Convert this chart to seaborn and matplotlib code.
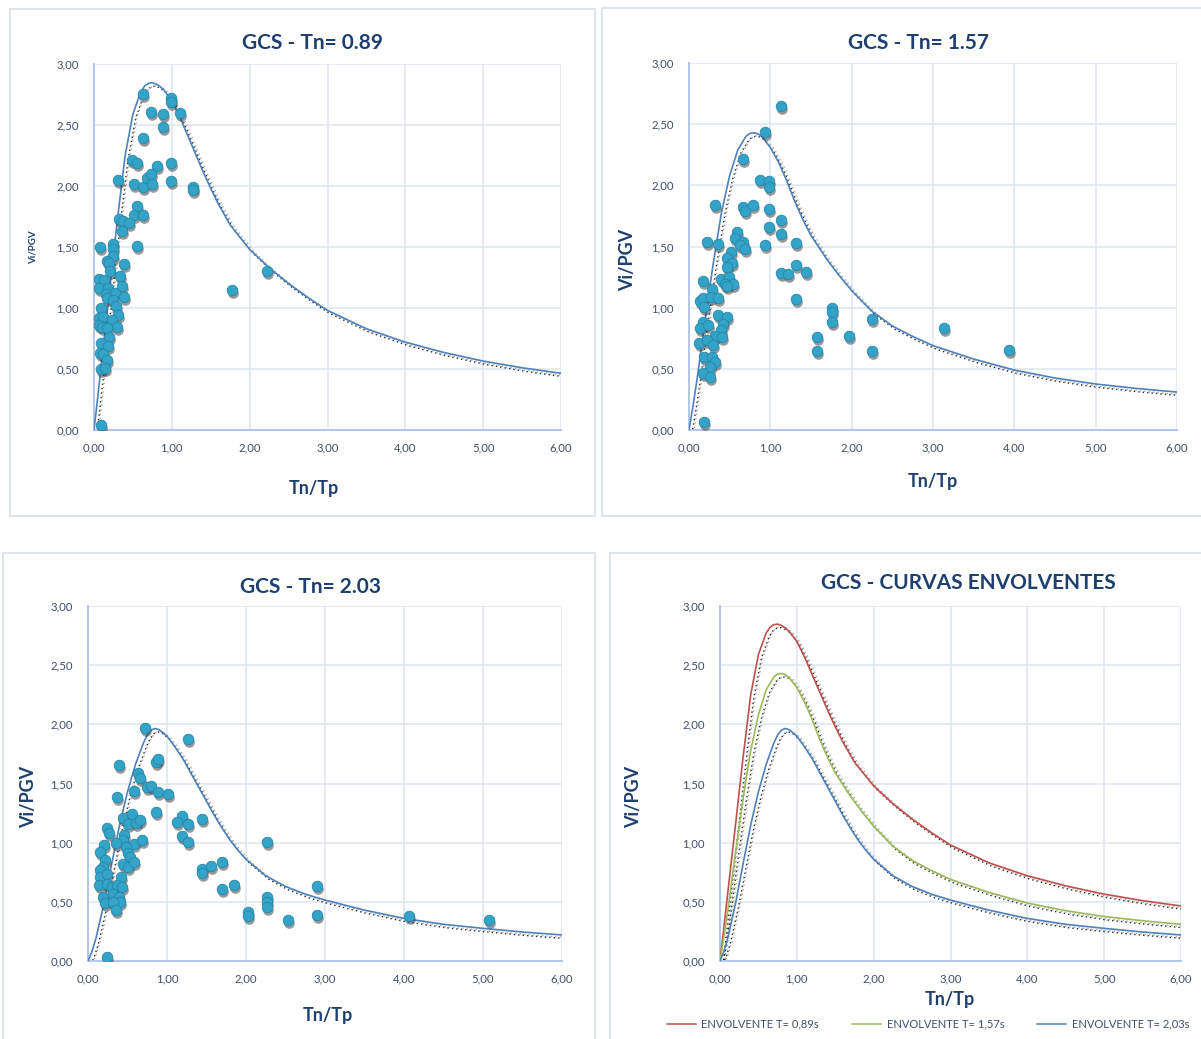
import numpy as np
import pandas as pd
import matplotlib
matplotlib.use("Agg")
import matplotlib.pyplot as plt
import seaborn as sns
from matplotlib.transforms import offset_copy
from matplotlib.patches import Rectangle
from matplotlib.lines import Line2D
from matplotlib.ticker import FuncFormatter, MultipleLocator

# -----------------------------
# Data
# -----------------------------
# envelope curves (Tn/Tp, Vi/PGV)
env089_x = [0, 0.05, 0.1, 0.2, 0.3, 0.4, 0.5, 0.6, 0.65, 0.7, 0.75, 0.8, 0.85, 0.9, 1.0, 1.1, 1.2, 1.3, 1.4,
            1.5, 1.6, 1.75, 2.0, 2.25, 2.5, 2.75, 3.0, 3.5, 4.0, 4.5, 5.0, 5.5, 6.0]
env089_y = [0, 0.28, 0.57, 1.14, 1.72, 2.25, 2.59, 2.77, 2.82, 2.842, 2.847, 2.835, 2.815, 2.785, 2.70, 2.57,
            2.42, 2.27, 2.12, 1.98, 1.85, 1.68, 1.48, 1.33, 1.20, 1.085, 0.98, 0.83, 0.72, 0.635, 0.565,
            0.51, 0.465]

env157_x = [0, 0.05, 0.1, 0.2, 0.3, 0.4, 0.5, 0.6, 0.7, 0.75, 0.8, 0.85, 0.9, 1.0, 1.1, 1.2, 1.3, 1.4,
            1.5, 1.6, 1.7, 1.85, 2.0, 2.25, 2.5, 2.75, 3.0, 3.5, 4.0, 4.5, 5.0, 5.5, 6.0]
env157_y = [0, 0.2, 0.42, 0.91, 1.37, 1.78, 2.08, 2.29, 2.40, 2.425, 2.43, 2.42, 2.395, 2.31, 2.19, 2.04,
            1.87, 1.72, 1.59, 1.49, 1.39, 1.26, 1.14, 0.97, 0.85, 0.765, 0.69, 0.58, 0.49, 0.425, 0.376,
            0.34, 0.31]

env203_x = [0, 0.05, 0.1, 0.2, 0.3, 0.4, 0.5, 0.6, 0.7, 0.75, 0.8, 0.85, 0.9, 1.0, 1.1, 1.2, 1.3, 1.4,
            1.5, 1.6, 1.7, 1.8, 1.9, 2.0, 2.25, 2.5, 2.75, 3.0, 3.5, 4.0, 4.5, 5.0, 5.5, 6.0]
env203_y = [0, 0.08, 0.19, 0.48, 0.82, 1.15, 1.43, 1.66, 1.84, 1.91, 1.952, 1.965, 1.955, 1.90, 1.81, 1.71,
            1.59, 1.47, 1.35, 1.23, 1.12, 1.02, 0.935, 0.86, 0.72, 0.63, 0.565, 0.515, 0.43, 0.36, 0.31,
            0.276, 0.245, 0.22]

# scatter points, Tn = 0.89
pts089_x = [0.634, 0.99, 0.99, 0.733, 0.89, 1.105, 0.89, 0.634, 0.485, 0.557, 0.81, 0.99, 0.304, 0.514,
            0.634, 0.685, 0.733, 0.745, 0.99, 1.276, 1.276, 0.557, 0.514, 0.634, 0.325, 0.369, 0.454,
            0.36, 0.077, 0.248, 0.248, 0.557, 0.248, 0.163, 0.197, 0.386, 0.206, 0.334, 0.068, 0.129,
            0.068, 0.184, 0.364, 0.154, 0.27, 0.163, 0.39, 0.248, 0.283, 0.086, 0.313, 0.068, 0.112,
            0.068, 0.099, 0.227, 0.291, 0.163, 0.197, 0.086, 0.184, 0.077, 0.112, 0.163, 0.086, 0.141,
            0.086, 1.77, 2.228]
pts089_y = [2.754, 2.72, 2.69, 2.607, 2.59, 2.60, 2.48, 2.39, 2.21, 2.186, 2.164, 2.19, 2.049, 2.016,
            1.995, 2.063, 2.098, 2.02, 2.04, 1.995, 1.967, 1.836, 1.762, 1.762, 1.728, 1.713, 1.694,
            1.631, 1.502, 1.522, 1.481, 1.508, 1.426, 1.388, 1.366, 1.361, 1.306, 1.262, 1.235, 1.23,
            1.167, 1.161, 1.18, 1.115, 1.125, 1.079, 1.088, 1.066, 1.016, 0.997, 0.943, 0.915, 0.924,
            0.861, 0.842, 0.902, 0.842, 0.834, 0.765, 0.716, 0.689, 0.634, 0.623, 0.574, 0.497, 0.505,
            0.041, 1.148, 1.303]

# scatter points, Tn = 1.57
pts157_x = [0.935, 0.66, 0.873, 0.988, 0.988, 0.316, 0.66, 0.693, 0.791, 0.988, 1.128, 0.988, 1.128,
            0.587, 0.566, 0.668, 0.627, 0.693, 0.218, 0.36, 0.935, 1.316, 0.513, 0.464, 0.525, 0.464,
            1.316, 1.128, 1.221, 1.435, 0.168, 0.39, 0.496, 0.443, 0.545, 0.464, 0.287, 0.135, 0.168,
            0.184, 0.271, 0.353, 1.316, 1.755, 1.755, 1.755, 2.247, 0.36, 0.464, 0.176, 0.135, 0.23,
            0.422, 0.39, 0.32, 0.41, 0.119, 0.218, 0.299, 1.578, 1.972, 0.188, 0.279, 0.32, 0.258,
            1.578, 2.247, 0.176, 0.258, 0.188, 3.14, 3.93, 1.128]
pts157_y = [2.44, 2.213, 2.044, 2.036, 1.985, 1.837, 1.826, 1.793, 1.837, 1.807, 1.717, 1.657, 1.603,
            1.621, 1.567, 1.54, 1.513, 1.478, 1.535, 1.518, 1.513, 1.527, 1.458, 1.404, 1.368, 1.33,
            1.349, 1.281, 1.276, 1.29, 1.221, 1.235, 1.249, 1.194, 1.194, 1.177, 1.153, 1.057, 1.077,
            1.003, 1.09, 1.077, 1.071, 1.0, 0.967, 0.88, 0.905, 0.938, 0.926, 0.886, 0.832, 0.859,
            0.867, 0.818, 0.769, 0.763, 0.709, 0.736, 0.695, 0.763, 0.771, 0.6, 0.6, 0.554, 0.513,
            0.646, 0.646, 0.464, 0.436, 0.068, 0.837, 0.654, 2.649]

# scatter points, Tn = 2.03
pts203_x = [0.725, 1.269, 0.396, 0.856, 0.89, 0.637, 0.658, 0.586, 0.363, 0.75, 0.793, 0.89, 1.016,
            0.856, 0.447, 0.56, 0.51, 0.607, 0.658, 1.193, 1.122, 1.269, 1.446, 0.236, 0.27, 0.455,
            0.447, 0.35, 0.582, 0.679, 1.193, 1.269, 0.206, 2.26, 0.481, 0.51, 0.531, 0.152, 0.215,
            0.186, 0.447, 0.502, 0.586, 1.446, 1.446, 1.552, 1.691, 0.152, 0.152, 0.236, 0.417, 0.143,
            0.236, 0.3, 0.371, 0.426, 1.691, 1.847, 0.194, 0.312, 0.396, 0.405, 0.215, 0.32, 0.35,
            2.028, 2.028, 2.26, 2.26, 2.26, 2.534, 0.236, 2.9, 2.9, 4.065, 5.077]
pts203_y = [1.967, 1.874, 1.654, 1.685, 1.705, 1.592, 1.544, 1.44, 1.389, 1.468, 1.479, 1.431, 1.409,
            1.262, 1.206, 1.243, 1.158, 1.164, 1.192, 1.228, 1.172, 1.158, 1.2, 1.122, 1.085, 1.065,
            1.023, 0.995, 0.989, 1.023, 1.057, 1.008, 0.981, 1.008, 0.961, 0.91, 0.882, 0.924, 0.854,
            0.797, 0.82, 0.797, 0.834, 0.775, 0.746, 0.803, 0.839, 0.769, 0.713, 0.735, 0.713, 0.642,
            0.651, 0.628, 0.642, 0.628, 0.606, 0.642, 0.543, 0.566, 0.543, 0.501, 0.488, 0.501, 0.431,
            0.417, 0.38, 0.543, 0.501, 0.459, 0.347, 0.036, 0.634, 0.389, 0.38, 0.347]

titles = ["GCS - Tn= 0.89", "GCS - Tn= 1.57", "GCS - Tn= 2.03", "GCS - CURVAS ENVOLVENTES"]
legend_labels = ["ENVOLVENTE T= 0,89s", "ENVOLVENTE T= 1,57s", "ENVOLVENTE T= 2,03s"]

# -----------------------------
# Style
# -----------------------------
sns.set_theme(style="white")
plt.rcParams["font.family"] = ["Lato", "DejaVu Sans"]

NAVY = "#1F3F6E"
TICK = "#3E4F6E"
GRID = "#DCE6F2"
AXIS = "#B4C7E7"
LINE_BLUE = "#4F81BD"
RED = "#C0504D"
GREEN = "#9BBB59"
MARKER = "#33A3C8"

W, H = 1201, 1039
fig = plt.figure(figsize=(W / 100, H / 100), dpi=100)


def px_axes(left, top, right, bottom):
    return fig.add_axes([left / W, 1 - bottom / H, (right - left) / W, (bottom - top) / H])


def box(left, top, right, bottom):
    fig.patches.append(Rectangle((left / W, 1 - bottom / H), (right - left) / W, (bottom - top) / H,
                                 transform=fig.transFigure, fill=False, edgecolor="#D5DFEC", lw=1.2))


fmt = FuncFormatter(lambda v, p: f"{v:.2f}".replace(".", ","))


def style_axes(ax):
    ax.set_xlim(0, 6)
    ax.set_ylim(0, 3)
    ax.xaxis.set_major_locator(MultipleLocator(1))
    ax.yaxis.set_major_locator(MultipleLocator(0.5))
    ax.xaxis.set_major_formatter(fmt)
    ax.yaxis.set_major_formatter(fmt)
    ax.grid(True, color=GRID, lw=1.1)
    ax.set_axisbelow(True)
    for s in ["top", "right"]:
        ax.spines[s].set_visible(False)
    for s in ["left", "bottom"]:
        ax.spines[s].set_color(AXIS)
        ax.spines[s].set_linewidth(1.4)
    ax.tick_params(axis="both", length=0, labelsize=8.2, labelcolor=TICK)
    ax.tick_params(axis="x", pad=9)
    ax.tick_params(axis="y", pad=11)
    ax.set_xlabel("")
    ax.set_ylabel("")


def envelope(ax, xs, ys, color):
    # dotted shadow under each envelope, drawn from the same data with a pixel offset
    shadow = offset_copy(ax.transData, fig=fig, x=3, y=-3.5, units="dots")
    ax.plot(xs, ys, color="#222222", lw=1.0, ls=(0, (1, 2.2)), transform=shadow, zorder=2)
    shadow2 = offset_copy(ax.transData, fig=fig, x=4.5, y=-2.5, units="dots")
    ax.plot(xs, ys, color="#AAAAAA", lw=1.0, ls=(0, (1, 2.2)), transform=shadow2, zorder=2)
    sns.lineplot(x=xs, y=ys, ax=ax, color=color, lw=1.2, sort=False, estimator=None, zorder=3)


def points(ax, xs, ys):
    shadow = offset_copy(ax.transData, fig=fig, x=1, y=-3, units="dots")
    ax.scatter(xs, ys, s=58, color="#333333", alpha=0.5, transform=shadow, zorder=4, linewidths=0)
    sns.scatterplot(x=xs, y=ys, ax=ax, s=58, color=MARKER, edgecolor="#2587AB", linewidth=0.6, zorder=5)


# chart frames
box(10, 9, 595, 516)
box(602, 8, 1203, 516)
box(3, 553, 595, 1042)
box(610, 553, 1203, 1042)

# -----------------------------
# Panel 1
# -----------------------------
ax1 = px_axes(94, 64, 561, 430)
style_axes(ax1)
envelope(ax1, env089_x, env089_y, LINE_BLUE)
points(ax1, pts089_x, pts089_y)
fig.text(313 / W, 1 - 43 / H, titles[0], ha="center", va="center", fontsize=15, fontweight="bold", color=NAVY)
fig.text(314 / W, 1 - 488 / H, "Tn/Tp", ha="center", va="center", fontsize=13, fontweight="bold", color=NAVY)
fig.text(33 / W, 1 - 247 / H, "Vi/PGV", ha="center", va="center", rotation=90, fontsize=7, fontweight="bold", color=NAVY)

# -----------------------------
# Panel 2
# -----------------------------
ax2 = px_axes(689, 63, 1177, 430)
style_axes(ax2)
envelope(ax2, env157_x, env157_y, LINE_BLUE)
points(ax2, pts157_x, pts157_y)
fig.text(918 / W, 1 - 43 / H, titles[1], ha="center", va="center", fontsize=15, fontweight="bold", color=NAVY)
fig.text(933 / W, 1 - 481 / H, "Tn/Tp", ha="center", va="center", fontsize=13, fontweight="bold", color=NAVY)
fig.text(628 / W, 1 - 260 / H, "Vi/PGV", ha="center", va="center", rotation=90, fontsize=13, fontweight="bold", color=NAVY)

# -----------------------------
# Panel 3
# -----------------------------
ax3 = px_axes(88, 606, 562, 961)
style_axes(ax3)
envelope(ax3, env203_x, env203_y, LINE_BLUE)
points(ax3, pts203_x, pts203_y)
fig.text(310 / W, 1 - 587 / H, titles[2], ha="center", va="center", fontsize=15, fontweight="bold", color=NAVY)
fig.text(328 / W, 1 - 1015 / H, "Tn/Tp", ha="center", va="center", fontsize=13, fontweight="bold", color=NAVY)
fig.text(29 / W, 1 - 797 / H, "Vi/PGV", ha="center", va="center", rotation=90, fontsize=13, fontweight="bold", color=NAVY)

# -----------------------------
# Panel 4
# -----------------------------
ax4 = px_axes(720, 606, 1181, 961)
style_axes(ax4)
envelope(ax4, env089_x, env089_y, RED)
envelope(ax4, env157_x, env157_y, GREEN)
envelope(ax4, env203_x, env203_y, LINE_BLUE)
fig.text(968 / W, 1 - 583 / H, titles[3], ha="center", va="center", fontsize=15, fontweight="bold", color=NAVY)
fig.text(950 / W, 1 - 1000 / H, "Tn/Tp", ha="center", va="center", fontsize=13, fontweight="bold", color=NAVY)
fig.text(634 / W, 1 - 797 / H, "Vi/PGV", ha="center", va="center", rotation=90, fontsize=13, fontweight="bold", color=NAVY)

handles = [Line2D([], [], color=c, lw=1.4, alpha=0.8) for c in [RED, GREEN, LINE_BLUE]]
leg = fig.legend(handles, legend_labels, loc="center", bbox_to_anchor=(928 / W, 1 - 1024 / H),
                 ncol=3, frameon=False, fontsize=8, handlelength=2.6, columnspacing=3.0, handletextpad=0.5)
for t in leg.get_texts():
    t.set_color(TICK)

plt.savefig("out.png", dpi=100)
